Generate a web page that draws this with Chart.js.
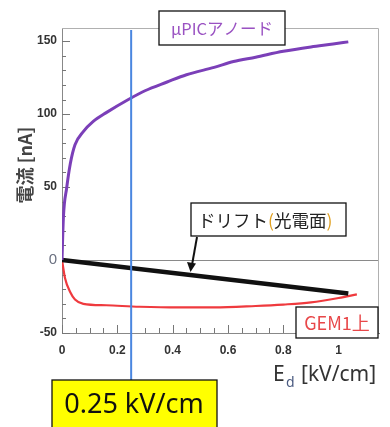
<!DOCTYPE html>
<html>
<head>
<meta charset="utf-8">
<script src="https://cdn.jsdelivr.net/npm/chart.js@4"></script>
<style>
  body { margin: 0; background: #fff; }
  #wrap { width: 390px; height: 427px; position: relative; }
</style>
</head>
<body>
<div id="wrap"><canvas id="chart"></canvas></div>
<script>
// values (E_d in kV/cm, current in nA)
const anodeE = [0, 0.005, 0.017, 0.03, 0.047, 0.077, 0.113, 0.16, 0.24, 0.3, 0.38, 0.45, 0.55, 0.62, 0.7, 0.8, 0.9, 0.98, 1.035];
const anodeI = [0, 29, 49.5, 66, 79, 88, 95, 101, 110, 116, 122, 127, 132, 136, 139, 143, 146, 148, 149.5];
const driftE = [0, 1.035];
const driftI = [0, -23];
const gemE = [0, 0.011, 0.029, 0.047, 0.077, 0.16, 0.28, 0.42, 0.55, 0.7, 0.8, 0.9, 1.0, 1.066];
const gemI = [0, -12.5, -21.7, -27, -30, -31, -32, -32.5, -32.5, -31.5, -30.5, -29, -26, -23.5];

const xTicks = [0, 0.2, 0.4, 0.6, 0.8, 1];
const yTicks = [-50, 0, 50, 100, 150];
const markerE = 0.25;
const markerLabel = '0.25 kV/cm';

const toPoints = (xs, ys) => xs.map((x, i) => ({ x: x, y: ys[i] }));
const isZero = c => !!(c && c.tick && c.tick.value === 0);

// frame, minor ticks and the blue marker line
const decorPlugin = {
    id: 'decor',
    beforeDatasetsDraw(chart) {
        const { ctx, chartArea: a, scales: { x, y } } = chart;
        ctx.save();
        ctx.strokeStyle = '#b0b0b0';
        ctx.lineWidth = 1;
        ctx.beginPath();
        ctx.moveTo(a.left, a.top + 0.5);
        ctx.lineTo(a.right - 0.5, a.top + 0.5);
        ctx.lineTo(a.right - 0.5, a.bottom);
        ctx.stroke();

        ctx.strokeStyle = '#777';
        ctx.beginPath();
        for (let i = -5; i <= 15; i++) {
            const py = Math.round(y.getPixelForValue(i * 10)) + 0.5;
            const len = i % 5 === 0 ? 8 : 4;
            ctx.moveTo(a.left, py);
            ctx.lineTo(a.left + len, py);
        }
        for (let i = 0; i <= 22; i++) {
            const px = Math.round(x.getPixelForValue(i * 0.05)) + 0.5;
            const len = i % 4 === 0 ? 8 : 5;
            ctx.moveTo(px, a.bottom);
            ctx.lineTo(px, a.bottom - len);
        }
        ctx.stroke();
        ctx.restore();
    },
    afterDatasetsDraw(chart) {
        const { ctx, chartArea: a, scales: { x } } = chart;
        const px = x.getPixelForValue(markerE);
        ctx.save();
        ctx.strokeStyle = '#4a86e0';
        ctx.lineWidth = 2;
        ctx.beginPath();
        ctx.moveTo(px, a.top + 2);
        ctx.lineTo(px, 380);
        ctx.stroke();
        ctx.restore();
    }
};

function box(ctx, x, y, w, h, fill) {
    ctx.fillStyle = fill;
    ctx.fillRect(x, y, w, h);
    ctx.strokeStyle = '#111';
    ctx.lineWidth = 1.3;
    ctx.strokeRect(x, y, w, h);
}

// labels, titles and the yellow note
const labelPlugin = {
    id: 'labels',
    afterDraw(chart) {
        const { ctx } = chart;
        ctx.save();
        ctx.textBaseline = 'middle';
        ctx.textAlign = 'center';

        // y title
        ctx.save();
        ctx.translate(25, 165);
        ctx.rotate(-Math.PI / 2);
        ctx.fillStyle = '#444';
        ctx.font = 'bold 18px "Noto Sans CJK JP"';
        ctx.fillText('電流 [nA]', 0, 0);
        ctx.restore();

        // x title with subscript
        ctx.textAlign = 'left';
        ctx.textBaseline = 'alphabetic';
        ctx.fillStyle = '#333';
        ctx.font = '21px "Noto Sans"';
        ctx.fillText('E', 273, 381);
        ctx.font = '14px "Noto Sans"';
        ctx.fillStyle = '#4a5a80';
        ctx.fillText('d', 286, 387);
        ctx.fillStyle = '#333';
        ctx.font = '21px "Noto Sans"';
        ctx.fillText('[kV/cm]', 301, 381);

        // anode label
        ctx.textBaseline = 'middle';
        ctx.textAlign = 'center';
        box(ctx, 159, 11, 126, 34, '#fff');
        ctx.fillStyle = '#9a52c2';
        ctx.font = '16.5px "Noto Sans CJK JP"';
        ctx.fillText('μPICアノード', 222, 29);

        // drift label with arrow
        box(ctx, 191, 203, 155, 33, '#fff');
        ctx.textAlign = 'left';
        ctx.font = '17.5px "Noto Sans CJK JP"';
        const parts = [['ドリフト', '#222'], ['(', '#e0a020'], ['光電面', '#222'], [')', '#e0a020']];
        let tx = 198;
        parts.forEach(p => {
            ctx.fillStyle = p[1];
            ctx.fillText(p[0], tx, 220);
            tx += ctx.measureText(p[0]).width;
        });
        ctx.strokeStyle = '#111';
        ctx.fillStyle = '#111';
        ctx.lineWidth = 2;
        ctx.beginPath();
        ctx.moveTo(197, 237);
        ctx.lineTo(192, 265);
        ctx.stroke();
        ctx.beginPath();
        ctx.moveTo(190.5, 272);
        ctx.lineTo(187, 262);
        ctx.lineTo(196, 263.5);
        ctx.closePath();
        ctx.fill();

        // GEM label
        box(ctx, 296, 307, 82, 31, '#fff');
        ctx.textAlign = 'center';
        ctx.fillStyle = '#e8484a';
        ctx.font = '18px "Noto Sans CJK JP"';
        ctx.fillText('GEM1上', 337, 323);

        // yellow note
        box(ctx, 52, 380, 165, 52, '#ffff00');
        ctx.fillStyle = '#111';
        ctx.font = '27px "Noto Sans"';
        ctx.fillText(markerLabel, 134, 405);
        ctx.restore();
    }
};

new Chart(document.getElementById('chart'), {
    type: 'line',
    data: {
        datasets: [
            {
                label: 'μPICアノード',
                data: toPoints(anodeE, anodeI),
                borderColor: '#7b3fb8',
                borderWidth: 3,
                cubicInterpolationMode: 'monotone'
            },
            {
                label: 'ドリフト(光電面)',
                data: toPoints(driftE, driftI),
                borderColor: '#111',
                borderWidth: 4.5
            },
            {
                label: 'GEM1上',
                data: toPoints(gemE, gemI),
                borderColor: '#ef3a3e',
                borderWidth: 2.2,
                cubicInterpolationMode: 'monotone'
            }
        ]
    },
    options: {
        responsive: true,
        maintainAspectRatio: false,
        animation: false,
        layout: { padding: { top: 28, right: 11, left: 0, bottom: 0 } },
        elements: { point: { radius: 0 } },
        plugins: {
            legend: { display: false },
            tooltip: { enabled: false }
        },
        scales: {
            x: {
                type: 'linear',
                min: 0,
                max: 1.146,
                afterFit: s => { s.height = 94; },
                afterBuildTicks: s => { s.ticks = xTicks.map(v => ({ value: v })); },
                grid: { display: false },
                border: { display: true, color: '#888', width: 1 },
                ticks: {
                    autoSkip: false,
                    maxRotation: 0,
                    padding: 2,
                    color: '#333',
                    font: { family: '"Liberation Sans"', size: 12, weight: 'bold' },
                    callback: v => (v === 0 ? '0' : v === 1 ? '1' : v.toFixed(1))
                }
            },
            y: {
                type: 'linear',
                min: -50,
                max: 159,
                afterFit: s => { s.width = 62; },
                afterBuildTicks: s => { s.ticks = yTicks.map(v => ({ value: v })); },
                grid: {
                    drawTicks: false,
                    color: c => (isZero(c) ? '#8a8a8a' : 'rgba(0,0,0,0)'),
                    lineWidth: 1
                },
                border: { display: true, color: '#888', width: 1 },
                ticks: {
                    padding: 5,
                    color: c => (isZero(c) ? '#6a7080' : '#333'),
                    font: c => (isZero(c)
                        ? { family: '"Liberation Sans"', size: 15, weight: 'normal' }
                        : { family: '"Liberation Sans"', size: 12, weight: 'bold' })
                }
            }
        }
    },
    plugins: [decorPlugin, labelPlugin]
});
</script>
</body>
</html>
